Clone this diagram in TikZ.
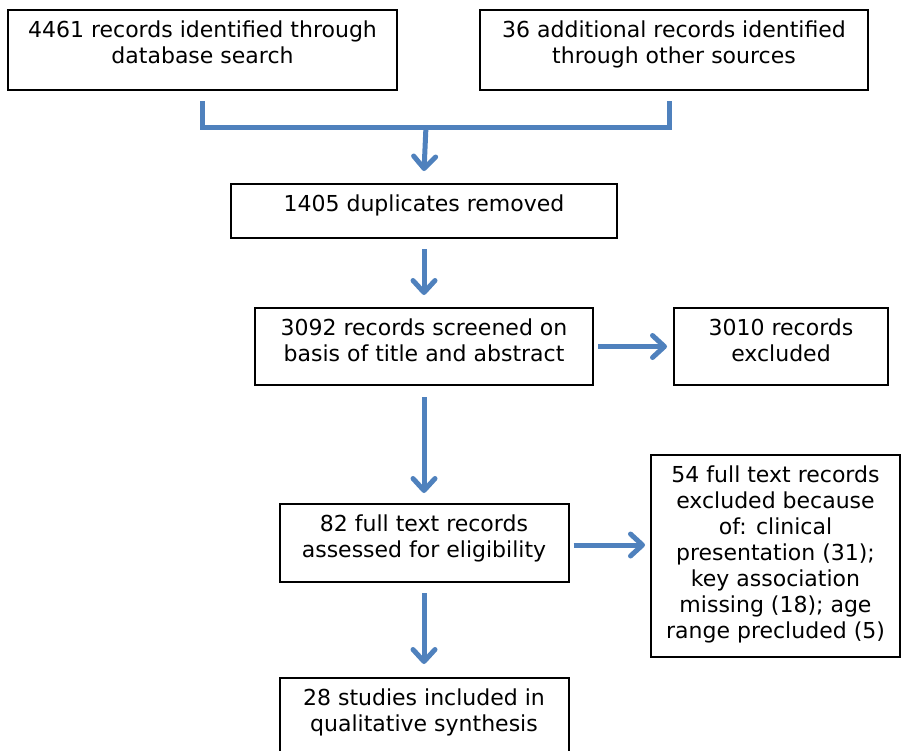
\documentclass[tikz,border=0pt]{standalone}
\usepackage{fontspec}
\setmainfont{DejaVu Sans}
\usetikzlibrary{arrows.meta}
\definecolor{flowblue}{HTML}{4F81BD}
\newcommand\boxtext[3]{\parbox[c][#2][t]{#1}{\centering\vspace*{11pt}#3}}

\begin{document}
\begin{tikzpicture}[x=1pt, y=-1pt,
    box/.style={draw, line width=2pt, inner sep=0pt, font=\fontsize{22}{26}\selectfont},
    flow/.style={flowblue, line width=5pt},
    tip/.style={-{Straight Barb[length=12pt, width=22pt, round]}}]
  \useasboundingbox (0,0) rectangle (904,750);
  % boxes
  \node[box] (db)   at (202.5,50)  {\boxtext{389pt}{80pt}{4461 records identified through\\database search}};
  \node[box] (oth)  at (674,50)    {\boxtext{388pt}{80pt}{36 additional records identified\\through other sources}};
  \node[box] (dup)  at (424,211)   {\boxtext{386pt}{54pt}{1405 duplicates removed}};
  \node[box] (scr)  at (424,346.5) {\boxtext{338pt}{77pt}{3092 records screened on\\basis of title and abstract}};
  \node[box] (exc)  at (781,346.5) {\boxtext{214pt}{77pt}{3010 records\\excluded}};
  \node[box] (full) at (424,543)   {\boxtext{289pt}{78pt}{82 full text records\\assessed for eligibility}};
  \node[box] (fexc) at (775.5,556) {\boxtext{249pt}{202pt}{54 full text records\\excluded because\\of: clinical\\presentation (31);\\key association\\missing (18); age\\range precluded (5)}};
  \node[box] (inc)  at (424,719)   {\boxtext{289pt}{82pt}{28 studies included in\\qualitative synthesis}};
  % connectors
  \coordinate (merge) at (426,126);
  \draw[flow] ([yshift=-10pt]db.south) -- ++(0,26) -| ([xshift=-5pt, yshift=-10pt]oth.south);
  \draw[flow, tip] (merge) -- ([yshift=12pt]dup.north);
  \draw[flow, tip, shorten <=10pt, shorten >=12pt] (dup) -- (scr);
  \draw[flow, tip, shorten <=11pt, shorten >=10pt] (scr) -- (full);
  \draw[flow, tip, shorten <=10pt, shorten >=13pt] (full) -- (inc);
  \draw[flow, tip] ([xshift=4pt]scr.east) -- ([xshift=-6pt]exc.west);
  \draw[flow, tip] ([xshift=4pt, yshift=-2pt]full.east) -- ([xshift=-5pt, yshift=-2pt]full.east -| fexc.west);
\end{tikzpicture}
\end{document}
